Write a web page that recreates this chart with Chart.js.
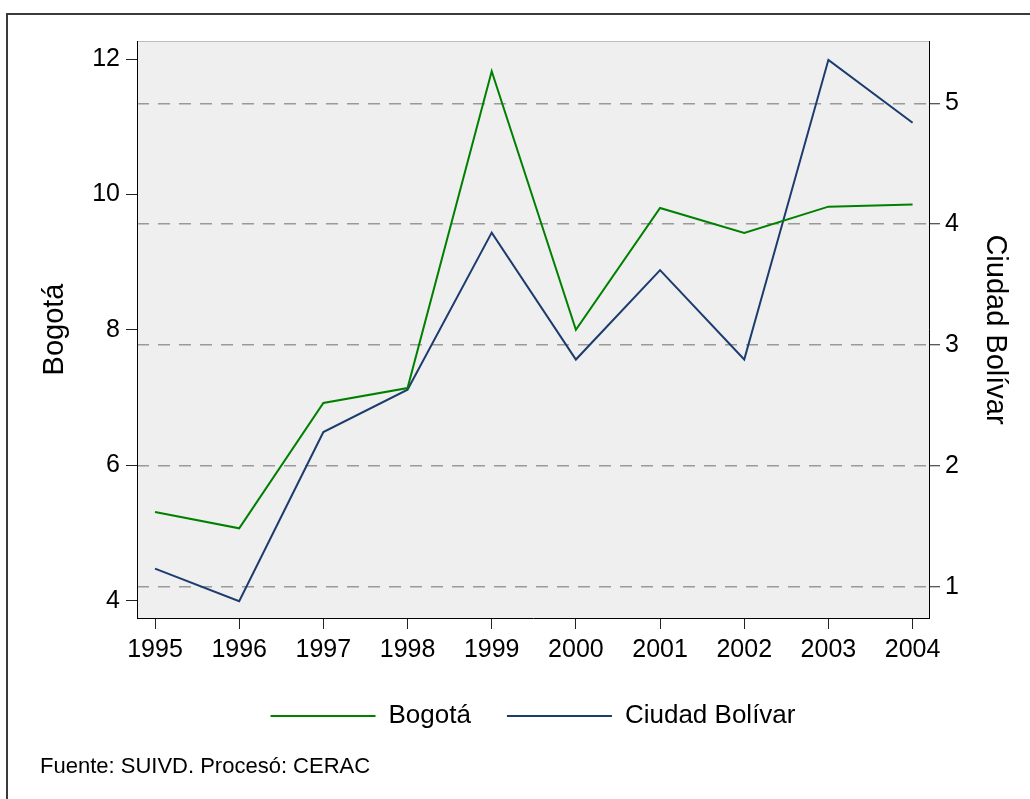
<!DOCTYPE html>
<html>
<head>
<meta charset="utf-8">
<script src="https://cdn.jsdelivr.net/npm/chart.js@4.4.0/dist/chart.umd.min.js"></script>
<style>
  body { margin: 0; background: #fff; }
  #chart { display: block; }
</style>
</head>
<body>
<canvas id="chart" width="1030" height="799"></canvas>
<script>
// --------------------- DATA ---------------------
const years = [1995, 1996, 1997, 1998, 1999, 2000, 2001, 2002, 2003, 2004];
const bogota = [5.31, 5.07, 6.92, 7.14, 11.82, 8.0, 9.8, 9.43, 9.82, 9.85];
const ciudadBolivar = [1.15, 0.88, 2.28, 2.63, 3.93, 2.88, 3.62, 2.88, 5.36, 4.84];
const leftTicks = [4, 6, 8, 10, 12];
const rightTicks = [1, 2, 3, 4, 5];
const sourceNote = "Fuente: SUIVD. Procesó: CERAC";

const FONT = "'Liberation Sans', Arial, sans-serif";
Chart.defaults.font.family = FONT;
Chart.defaults.color = "#000";

// plot background + grey top edge + outer frame + footer note
const decorations = {
  id: "decorations",
  beforeDraw(chart) {
    const { ctx, chartArea: a } = chart;
    ctx.save();
    ctx.fillStyle = "#efefef";
    ctx.fillRect(a.left, a.top, a.right - a.left, a.bottom - a.top);
    ctx.strokeStyle = "#bdbdbd";
    ctx.lineWidth = 1;
    ctx.beginPath();
    ctx.moveTo(a.left, a.top + 0.5);
    ctx.lineTo(a.right, a.top + 0.5);
    ctx.stroke();
    ctx.restore();
  },
  afterDraw(chart) {
    const { ctx } = chart;
    ctx.save();
    ctx.strokeStyle = "#3a3a3a";
    ctx.lineWidth = 2;
    ctx.beginPath();
    ctx.moveTo(1040, 14);
    ctx.lineTo(7, 14);
    ctx.lineTo(7, 810);
    ctx.stroke();
    ctx.fillStyle = "#000";
    ctx.font = "22px " + FONT;
    ctx.textBaseline = "alphabetic";
    ctx.fillText(sourceNote, 40, 773);
    ctx.restore();
  }
};

const ticksFrom = (list) => (scale) => {
  scale.ticks = list.map((v) => ({ value: v }));
};

new Chart(document.getElementById("chart"), {
  type: "line",
  data: {
    datasets: [
      {
        label: "Bogotá",
        data: years.map((y, i) => ({ x: y, y: bogota[i] })),
        borderColor: "#008000",
        backgroundColor: "#008000",
        borderWidth: 2,
        pointRadius: 0,
        tension: 0,
        yAxisID: "y"
      },
      {
        label: "Ciudad Bolívar",
        data: years.map((y, i) => ({ x: y, y: ciudadBolivar[i] })),
        borderColor: "#1c3b6e",
        backgroundColor: "#1c3b6e",
        borderWidth: 2,
        pointRadius: 0,
        tension: 0,
        yAxisID: "y2"
      }
    ]
  },
  options: {
    responsive: false,
    animation: false,
    layout: { padding: { left: 36, right: 0, top: 41, bottom: 60 } },
    plugins: {
      tooltip: { enabled: false },
      legend: {
        position: "bottom",
        labels: {
          boxWidth: 105,
          boxHeight: 2,
          padding: 36,
          font: { size: 26 },
          color: "#000",
          generateLabels(chart) {
            const items = Chart.defaults.plugins.legend.labels.generateLabels(chart);
            items.forEach((it) => { it.lineWidth = 0; it.fillStyle = it.strokeStyle; });
            return items;
          }
        }
      }
    },
    scales: {
      x: {
        type: "linear",
        min: 1994.786,
        max: 2004.195,
        afterFit(scale) { scale.height = 49; },
        afterBuildTicks: ticksFrom(years),
        grid: { drawOnChartArea: false, tickLength: 11, tickColor: "#222", tickWidth: 1 },
        border: { color: "#000", width: 1 },
        ticks: { font: { size: 25 }, padding: 6, maxRotation: 0, autoSkip: false, callback: (v) => String(v) }
      },
      y: {
        position: "left",
        min: 3.745,
        max: 12.266,
        afterFit(scale) { scale.width = 101; },
        afterBuildTicks: ticksFrom(leftTicks),
        grid: { drawOnChartArea: false, tickLength: 11, tickColor: "#222", tickWidth: 1 },
        border: { color: "#000", width: 1 },
        ticks: { font: { size: 25 }, padding: 6 },
        title: { display: true, text: "Bogotá", font: { size: 29 }, padding: { top: 2, bottom: 0 } }
      },
      y2: {
        position: "right",
        min: 0.741,
        max: 5.516,
        afterFit(scale) { scale.width = 101; },
        afterBuildTicks: ticksFrom(rightTicks),
        grid: {
          drawOnChartArea: true,
          color: "#9a9a9a",
          lineWidth: 1.5,
          tickLength: 11,
          tickColor: "#222",
          tickWidth: 1,
          tickBorderDash: []
        },
        border: { color: "#000", width: 1, dash: [12, 9] },
        ticks: { font: { size: 25 }, padding: 5 },
        title: { display: true, text: "Ciudad Bolívar", font: { size: 29 }, padding: { top: 18, bottom: 0 } }
      }
    }
  },
  plugins: [decorations]
});
</script>
</body>
</html>
